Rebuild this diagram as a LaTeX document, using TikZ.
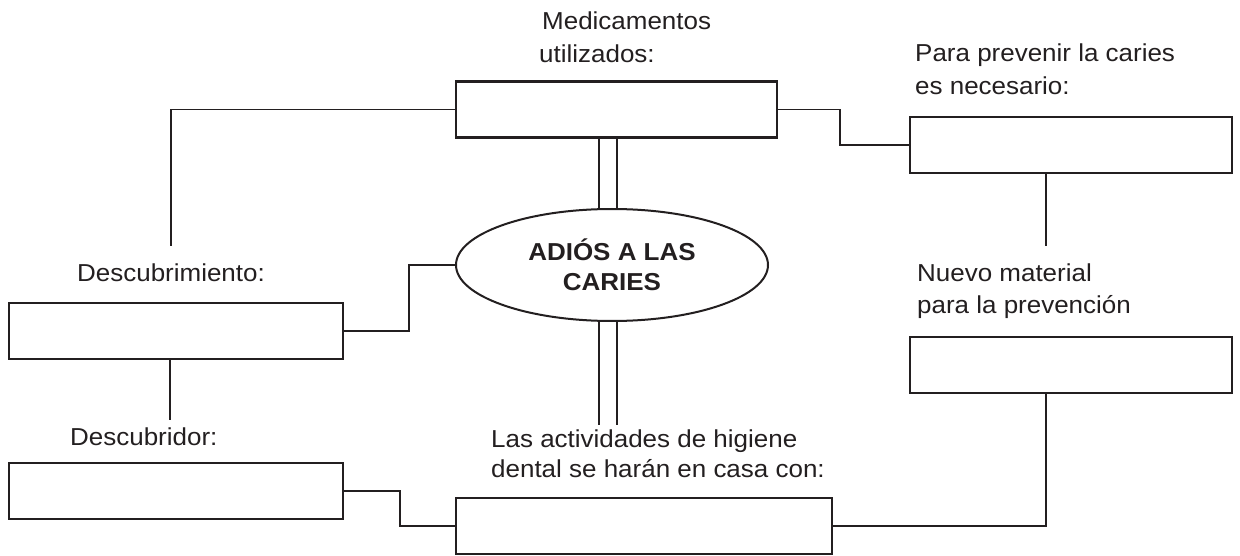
\documentclass[tikz,border=0pt]{standalone}
\usepackage{fontspec}
\setmainfont{Liberation Sans}[FakeStretch=1.06]
\usetikzlibrary{shapes.geometric}
\definecolor{ink}{HTML}{231F20}
\begin{document}
\begin{tikzpicture}[x=1pt,y=-1pt,
  box/.style={draw=ink,line width=2.4pt,fill=white,inner sep=0pt,minimum height=56pt},
  conn/.style={draw=ink,line width=1.2pt},
  connthick/.style={draw=ink,line width=2.2pt},
  lbl/.style={anchor=base west,inner sep=0pt,text=ink,font=\fontsize{24.5}{30}\selectfont}]
\useasboundingbox (0,0) rectangle (1240,556);
% boxes
\node[box,minimum width=321pt] (med) at (616.5,109.5) {};
\node[box,minimum width=322pt] (prev) at (1071,145) {};
\node[box,minimum width=322pt] (nuevo) at (1071,365) {};
\node[box,minimum width=334pt] (desc) at (176,331) {};
\node[box,minimum width=334pt] (dor) at (176,491) {};
\node[box,minimum width=376pt] (hig) at (644,526) {};
\node[ellipse,draw=ink,line width=2pt,fill=white,minimum width=312pt,minimum height=112pt,inner sep=0pt,align=center,text=ink,
  font=\fontsize{24.5}{30}\selectfont\bfseries] (ell) at (612,265) {ADIÓS A LAS\\CARIES};
% labels
\node[lbl] (tmed1) at (542,30) {Medicamentos};
\node[lbl] (tmed2) at (539,63) {utilizados:};
\node[lbl] (tprev1) at (915,62) {Para prevenir la caries};
\node[lbl] (tprev2) at (915,95) {es necesario:};
\node[lbl] (tdesc) at (77,282) {Descubrimiento:};
\node[lbl] (tnue1) at (917,282) {Nuevo material};
\node[lbl] (tnue2) at (917,313) {para la prevención};
\node[lbl] (thig1) at (491,447) {Las actividades de higiene};
\node[lbl] (thig2) at (491,477) {dental se harán en casa con:};
\node[lbl] (tdor) at (70,445) {Descubridor:};
% free ends
\coordinate (e1) at (171,246);
\coordinate (e2) at (170,420);
\coordinate (e3) at (1046,246);
\coordinate (e4) at (599,425);
\coordinate (e5) at (617,425);
% connectors
\draw[conn] (med.west) -| (e1);
\draw[conn] (med.east) -- (840,109.5) |- (prev.west);
\draw[conn] (med.south -| e4) -- (ell.north -| e4);
\draw[conn] (med.south -| e5) -- (ell.north -| e5);
\draw[conn] (ell.south -| e4) -- (e4);
\draw[conn] (ell.south -| e5) -- (e5);
\draw[conn] (ell.west) -- (409,265) |- (desc.east);
\draw[conn] (desc.south -| e2) -- (e2);
\draw[conn] (dor.east) -- (400,491) |- (hig.west);
\draw[connthick] (prev.south -| e3) -- (e3);
\draw[connthick] (hig.east) -| (nuevo.south -| e3);
\end{tikzpicture}
\end{document}
